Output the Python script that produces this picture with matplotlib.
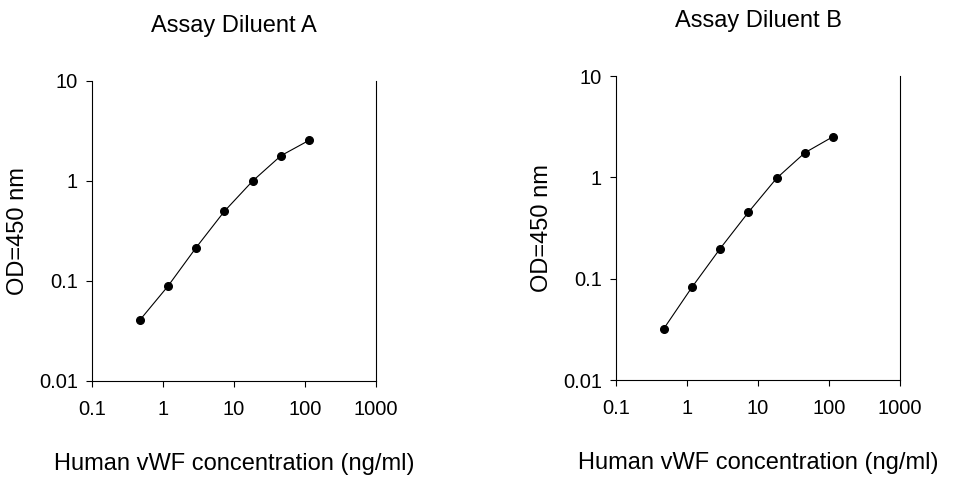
import matplotlib
matplotlib.use("Agg")
import matplotlib.pyplot as plt
from matplotlib.ticker import FixedLocator, FuncFormatter, NullLocator

plt.rcParams['font.family'] = ['Liberation Sans', 'DejaVu Sans']

# vWF standard curve
conc = [0.47, 1.17, 2.93, 7.32, 18.3, 45.8, 114]
od_a = [0.0405, 0.0885, 0.216, 0.498, 1.0, 1.79, 2.55]
od_b = [0.032, 0.082, 0.198, 0.452, 0.98, 1.75, 2.52]

titles = ["Assay Diluent A", "Assay Diluent B"]
x_ticks = [0.1, 1, 10, 100, 1000]
y_ticks = [0.01, 0.1, 1, 10]

W, H = 955, 480
fig = plt.figure(figsize=(W / 100, H / 100), dpi=100)

# axes boxes in pixels: left, right, top, bottom
boxes = [(92, 376, 81, 381), (616, 900, 76, 380)]

for (l, r, t, b), title, od in zip(boxes, titles, [od_a, od_b]):
    ax = fig.add_axes([l / W, 1 - b / H, (r - l) / W, (b - t) / H])
    ax.plot(conc, od, color='black', lw=0.8, marker='o', ms=5.5)
    ax.set_xscale('log')
    ax.set_yscale('log')
    ax.set_xlim(0.1, 1000)
    ax.set_ylim(0.01, 10)
    fmt = FuncFormatter(lambda v, p: f"{v:g}")
    ax.xaxis.set_major_locator(FixedLocator(x_ticks))
    ax.yaxis.set_major_locator(FixedLocator(y_ticks))
    ax.xaxis.set_major_formatter(fmt)
    ax.yaxis.set_major_formatter(fmt)
    ax.xaxis.set_minor_locator(NullLocator())
    ax.yaxis.set_minor_locator(NullLocator())
    ax.spines['top'].set_visible(False)
    for s in ['left', 'right', 'bottom']:
        ax.spines[s].set_linewidth(0.8)
    ax.tick_params(axis='both', direction='out', length=4, width=0.8,
                   labelsize=14.5, top=False, right=False)
    ax.tick_params(axis='x', pad=10)
    ax.tick_params(axis='y', pad=6)
    ax.set_title(title, fontsize=17, pad=35)
    ax.set_xlabel("Human vWF concentration (ng/ml)", fontsize=17, labelpad=24)
    ax.set_ylabel("OD=450 nm", fontsize=17, labelpad=7)

fig.savefig("out.png", dpi=100)
